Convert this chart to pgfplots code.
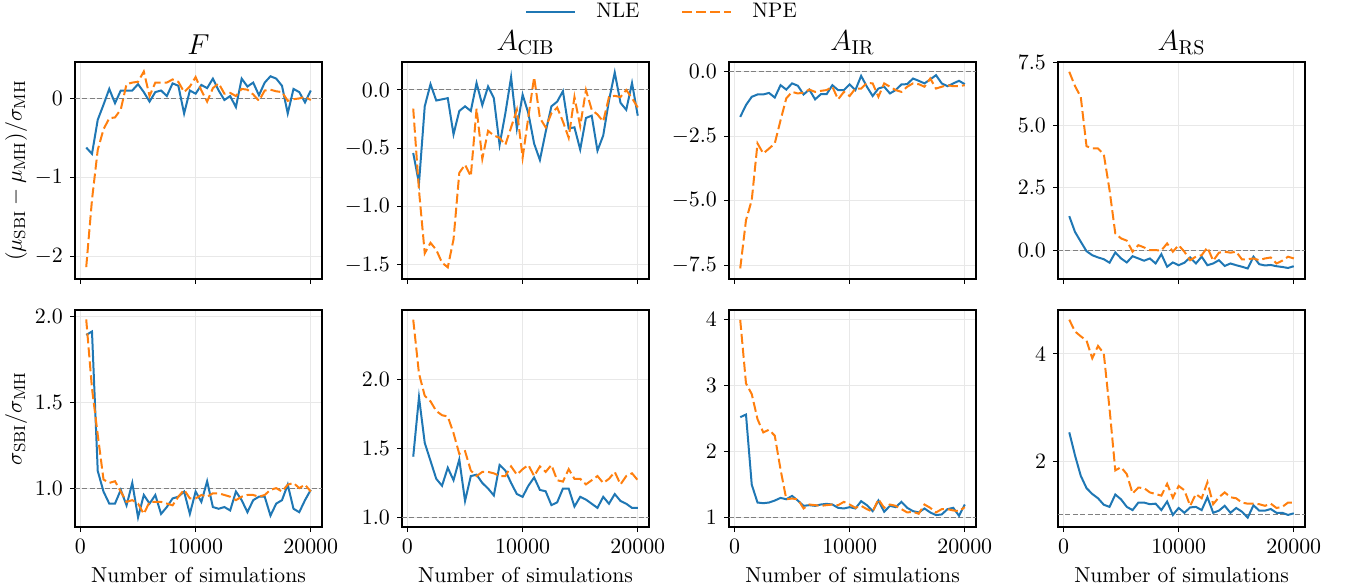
\documentclass[border=0pt]{standalone}
\usepackage{pgfplots}
\usepackage{pgfplotstable}
\pgfplotsset{compat=1.18}
\definecolor{mplblue}{HTML}{1F77B4}
\definecolor{mplorange}{HTML}{FF7F0E}

\pgfplotstableread{
x nle npe
500 -0.62 -2.13
1000 -0.70 -1.28
1500 -0.27 -0.65
2000 -0.08 -0.39
2500 0.12 -0.25
3000 -0.06 -0.24
3500 0.10 -0.14
4000 0.10 0.18
4500 0.10 0.20
5000 0.18 0.21
5500 0.08 0.34
6000 -0.04 0.03
6500 0.08 0.20
7000 0.10 0.20
7500 0.03 0.20
8000 0.19 0.24
8500 0.16 0.21
9000 -0.19 0.08
9500 0.10 0.15
10000 0.06 0.27
10500 0.17 0.10
11000 0.13 -0.04
11500 0.25 0.13
12000 0.10 0.19
12500 -0.02 0.06
13000 0.03 0.07
13500 -0.11 0.03
14000 0.25 0.12
14500 0.15 0.11
15000 0.20 0.05
15500 0.04 -0.03
16000 0.20 0.10
16500 0.28 0.11
17000 0.25 0.09
17500 0.16 0.08
18000 -0.19 -0.03
18500 0.12 -0.01
19000 0.08 0.00
19500 -0.05 0.02
20000 0.10 -0.02
}\tA

\pgfplotstableread{
x nle npe
500 -0.54 -0.16
1000 -0.80 -0.86
1500 -0.14 -1.40
2000 0.05 -1.31
2500 -0.09 -1.37
3000 -0.08 -1.48
3500 -0.07 -1.52
4000 -0.38 -1.28
4500 -0.18 -0.71
5000 -0.14 -0.64
5500 -0.18 -0.74
6000 0.06 -0.16
6500 -0.13 -0.59
7000 0.03 -0.35
7500 -0.07 -0.39
8000 -0.47 -0.41
8500 -0.20 -0.47
9000 0.11 -0.32
9500 -0.33 -0.17
10000 -0.04 -0.58
10500 -0.20 -0.23
11000 -0.46 0.11
11500 -0.60 -0.24
12000 -0.36 -0.32
12500 -0.14 -0.20
13000 -0.10 -0.15
13500 -0.01 -0.27
14000 -0.33 -0.41
14500 -0.32 -0.06
15000 -0.51 -0.31
15500 -0.24 0.00
16000 -0.22 -0.17
16500 -0.52 -0.21
17000 -0.39 -0.27
17500 -0.09 -0.06
18000 0.15 -0.05
18500 -0.11 -0.06
19000 -0.17 0.00
19500 0.06 -0.07
20000 -0.22 -0.15
}\tB

\pgfplotstableread{
x nle npe
500 -1.75 -7.63
1000 -1.29 -5.76
1500 -0.97 -4.98
2000 -0.88 -2.78
2500 -0.88 -3.17
3000 -0.82 -2.98
3500 -1.00 -2.78
4000 -0.52 -1.88
4500 -0.69 -1.03
5000 -0.45 -0.78
5500 -0.54 -0.84
6000 -0.88 -0.81
6500 -0.69 -0.69
7000 -1.07 -0.78
7500 -0.87 -0.74
8000 -0.87 -0.71
8500 -0.52 -0.58
9000 -0.71 -1.07
9500 -0.71 -0.78
10000 -0.49 -0.94
10500 -0.71 -0.65
11000 -0.16 -0.65
11500 -0.58 -0.43
12000 -0.94 -0.45
12500 -0.65 -0.97
13000 -0.58 -0.45
13500 -0.84 -0.58
14000 -0.71 -0.71
14500 -0.49 -0.78
15000 -0.48 -0.58
15500 -0.26 -0.45
16000 -0.35 -0.48
16500 -0.45 -0.58
17000 -0.30 -0.26
17500 -0.13 -0.65
18000 -0.45 -0.58
18500 -0.56 -0.52
19000 -0.45 -0.56
19500 -0.35 -0.56
20000 -0.48 -0.52
}\tC

\pgfplotstableread{
x nle npe
500 1.37 7.13
1000 0.74 6.56
1500 0.35 6.13
2000 -0.03 4.16
2500 -0.19 4.07
3000 -0.28 4.07
3500 -0.35 3.84
4000 -0.49 2.41
4500 -0.08 0.68
5000 -0.32 0.48
5500 -0.48 0.39
6000 -0.23 -0.05
6500 -0.32 0.21
7000 -0.41 0.12
7500 -0.32 0.01
8000 -0.52 0.01
8500 -0.15 0.00
9000 -0.65 0.28
9500 -0.48 -0.05
10000 -0.59 0.21
10500 -0.49 -0.05
11000 -0.28 -0.39
11500 -0.52 -0.25
12000 -0.25 -0.19
12500 -0.59 0.12
13000 -0.52 -0.41
13500 -0.39 -0.09
14000 -0.62 -0.05
14500 -0.52 -0.09
15000 -0.59 -0.05
15500 -0.65 -0.36
16000 -0.72 -0.35
16500 -0.25 -0.32
17000 -0.55 -0.39
17500 -0.60 -0.32
18000 -0.58 -0.28
18500 -0.63 -0.52
19000 -0.66 -0.41
19500 -0.70 -0.25
20000 -0.63 -0.32
}\tD

\pgfplotstableread{
x nle npe
500 1.89 1.98
1000 1.91 1.58
1500 1.10 1.31
2000 0.98 1.05
2500 0.91 1.03
3000 0.91 1.04
3500 0.99 0.98
4000 0.90 0.92
4500 1.03 0.93
5000 0.83 0.91
5500 0.96 0.85
6000 0.91 0.92
6500 0.96 0.92
7000 0.85 0.92
7500 0.89 0.91
8000 0.94 0.90
8500 0.95 0.95
9000 0.98 0.99
9500 0.85 0.94
10000 0.98 0.94
10500 0.92 0.96
11000 1.04 0.95
11500 0.89 0.97
12000 0.88 0.97
12500 0.89 0.96
13000 0.87 0.95
13500 0.98 0.93
14000 0.93 0.95
14500 0.86 0.96
15000 0.93 0.96
15500 0.95 0.95
16000 0.95 0.96
16500 0.84 0.99
17000 0.91 1.00
17500 0.93 0.98
18000 1.02 1.02
18500 0.88 1.03
19000 0.86 1.00
19500 0.93 1.02
20000 0.99 0.98
}\tE

\pgfplotstableread{
x nle npe
500 1.44 2.43
1000 1.87 2.04
1500 1.54 1.88
2000 1.41 1.84
2500 1.28 1.77
3000 1.23 1.74
3500 1.36 1.73
4000 1.27 1.61
4500 1.42 1.46
5000 1.12 1.48
5500 1.30 1.34
6000 1.31 1.30
6500 1.25 1.33
7000 1.21 1.33
7500 1.16 1.32
8000 1.38 1.30
8500 1.34 1.30
9000 1.25 1.37
9500 1.17 1.31
10000 1.15 1.35
10500 1.23 1.38
11000 1.29 1.30
11500 1.20 1.37
12000 1.19 1.33
12500 1.09 1.38
13000 1.11 1.27
13500 1.21 1.26
14000 1.21 1.35
14500 1.08 1.28
15000 1.15 1.28
15500 1.13 1.24
16000 1.10 1.27
16500 1.07 1.30
17000 1.15 1.25
17500 1.10 1.28
18000 1.17 1.33
18500 1.12 1.24
19000 1.10 1.30
19500 1.07 1.32
20000 1.07 1.27
}\tF

\pgfplotstableread{
x nle npe
500 2.52 3.99
1000 2.56 3.03
1500 1.50 2.87
2000 1.23 2.49
2500 1.22 2.29
3000 1.23 2.33
3500 1.26 2.24
4000 1.30 1.73
4500 1.28 1.28
5000 1.33 1.29
5500 1.26 1.28
6000 1.18 1.14
6500 1.19 1.20
7000 1.18 1.19
7500 1.20 1.18
8000 1.21 1.19
8500 1.20 1.20
9000 1.15 1.19
9500 1.14 1.24
10000 1.16 1.20
10500 1.14 1.15
11000 1.25 1.18
11500 1.19 1.13
12000 1.10 1.09
12500 1.26 1.28
13000 1.09 1.15
13500 1.18 1.20
14000 1.16 1.18
14500 1.24 1.13
15000 1.15 1.08
15500 1.10 1.09
16000 1.08 1.06
16500 1.14 1.20
17000 1.08 1.15
17500 1.04 1.08
18000 1.05 1.13
18500 1.13 1.13
19000 1.15 1.11
19500 1.03 1.10
20000 1.20 1.16
}\tG

\pgfplotstableread{
x nle npe
500 2.54 4.64
1000 2.11 4.42
1500 1.73 4.33
2000 1.50 4.25
2500 1.39 3.92
3000 1.31 4.15
3500 1.19 4.01
4000 1.15 2.98
4500 1.38 1.83
5000 1.29 1.89
5500 1.15 1.76
6000 1.09 1.40
6500 1.23 1.51
7000 1.23 1.50
7500 1.20 1.42
8000 1.21 1.39
8500 1.09 1.36
9000 1.25 1.58
9500 1.00 1.32
10000 1.13 1.54
10500 1.04 1.46
11000 1.14 1.17
11500 1.15 1.39
12000 1.09 1.31
12500 1.33 1.61
13000 1.04 1.20
13500 1.08 1.33
14000 1.17 1.42
14500 1.04 1.33
15000 1.13 1.31
15500 1.06 1.23
16000 0.95 1.21
16500 1.18 1.21
17000 1.08 1.20
17500 1.08 1.17
18000 1.11 1.21
18500 1.04 1.13
19000 1.04 1.15
19500 1.00 1.23
20000 1.03 1.23
}\tH

\pgfplotsset{
  sbi/.style={
    scale only axis, width=123.5pt, height=108.5pt,
    xmin=-475, xmax=20975, xtick={0,10000,20000},
    scaled x ticks=false, scaled y ticks=false,
    xticklabel style={/pgf/number format/1000 sep={}},
    grid=major, major grid style={black!9, line width=0.5pt},
    tick align=outside, tick pos=left,
    major tick length=2.5pt,
    every tick/.style={black, line width=0.5pt},
    axis line style={black, line width=0.75pt},
    tick label style={font=\fontsize{11}{13}\selectfont},
    label style={font=\fontsize{10.8}{13}\selectfont},
    ylabel shift=-3pt,
    title style={font=\fontsize{14}{16}\selectfont, yshift=-6pt},
    clip=true,
  },
  onedec/.style={yticklabel style={/pgf/number format/.cd, fixed, fixed zerofill, precision=1}},
  nle/.style={mplblue, line width=1pt},
  npe/.style={mplorange, line width=1pt, dash pattern=on 5pt off 2pt},
  refl/.style={gray, line width=0.5pt, dash pattern=on 2.5pt off 1.2pt, forget plot},
}

\begin{document}
\begin{tikzpicture}
\useasboundingbox (0,0) rectangle (674pt,-293.5pt);

% Row 1
\begin{axis}[sbi, at={(37.5pt,-31pt)}, anchor=north west, xticklabels={},
  ymin=-2.28, ymax=0.46, ytick={-2,-1,0}, title={$F$},
  ylabel={$(\mu_{\mathrm{SBI}}-\mu_{\mathrm{MH}})/\sigma_{\mathrm{MH}}$}]
\addplot[refl] coordinates {(-475,0) (20975,0)};
\addplot[nle] table[x=x,y=nle]{\tA};
\addplot[npe] table[x=x,y=npe]{\tA};
\end{axis}

\begin{axis}[sbi, onedec, at={(201pt,-31pt)}, anchor=north west, xticklabels={},
  ymin=-1.62, ymax=0.24, ytick={-1.5,-1,-0.5,0}, title={$A_{\mathrm{CIB}}$},
  legend columns=2,
  legend style={draw=none, fill=none, at={(1.057,1.23)}, anchor=center,
    font=\fontsize{10.5}{12}\selectfont,
    /tikz/every odd column/.append style={column sep=8pt},
    /tikz/every even column/.append style={column sep=19pt}},
  legend image code/.code={\draw[#1] (0pt,0pt) -- (24.5pt,0pt);}]
\addplot[refl] coordinates {(-475,0) (20975,0)};
\addplot[nle] table[x=x,y=nle]{\tB};
\addplot[npe] table[x=x,y=npe]{\tB};
\legend{NLE,NPE}
\end{axis}

\begin{axis}[sbi, onedec, at={(364.5pt,-31pt)}, anchor=north west, xticklabels={},
  ymin=-8.04, ymax=0.38, ytick={-7.5,-5,-2.5,0}, title={$A_{\mathrm{IR}}$}]
\addplot[refl] coordinates {(-475,0) (20975,0)};
\addplot[nle] table[x=x,y=nle]{\tC};
\addplot[npe] table[x=x,y=npe]{\tC};
\end{axis}

\begin{axis}[sbi, onedec, at={(529pt,-31pt)}, anchor=north west, xticklabels={},
  ymin=-1.14, ymax=7.52, ytick={0,2.5,5,7.5}, title={$A_{\mathrm{RS}}$}]
\addplot[refl] coordinates {(-475,0) (20975,0)};
\addplot[nle] table[x=x,y=nle]{\tD};
\addplot[npe] table[x=x,y=npe]{\tD};
\end{axis}

% Row 2
\begin{axis}[sbi, onedec, at={(37.5pt,-155pt)}, anchor=north west,
  ymin=0.774, ymax=2.035, ytick={1,1.5,2},
  xlabel={Number of simulations},
  ylabel={$\sigma_{\mathrm{SBI}}/\sigma_{\mathrm{MH}}$}]
\addplot[refl] coordinates {(-475,1) (20975,1)};
\addplot[nle] table[x=x,y=nle]{\tE};
\addplot[npe] table[x=x,y=npe]{\tE};
\end{axis}

\begin{axis}[sbi, onedec, at={(201pt,-155pt)}, anchor=north west,
  ymin=0.932, ymax=2.50, ytick={1,1.5,2},
  xlabel={Number of simulations}]
\addplot[refl] coordinates {(-475,1) (20975,1)};
\addplot[nle] table[x=x,y=nle]{\tF};
\addplot[npe] table[x=x,y=npe]{\tF};
\end{axis}

\begin{axis}[sbi, at={(364.5pt,-155pt)}, anchor=north west,
  ymin=0.86, ymax=4.14, ytick={1,2,3,4},
  xlabel={Number of simulations}]
\addplot[refl] coordinates {(-475,1) (20975,1)};
\addplot[nle] table[x=x,y=nle]{\tG};
\addplot[npe] table[x=x,y=npe]{\tG};
\end{axis}

\begin{axis}[sbi, at={(529pt,-155pt)}, anchor=north west,
  ymin=0.775, ymax=4.82, ytick={2,4},
  xlabel={Number of simulations}]
\addplot[refl] coordinates {(-475,1) (20975,1)};
\addplot[nle] table[x=x,y=nle]{\tH};
\addplot[npe] table[x=x,y=npe]{\tH};
\end{axis}
\end{tikzpicture}
\end{document}
